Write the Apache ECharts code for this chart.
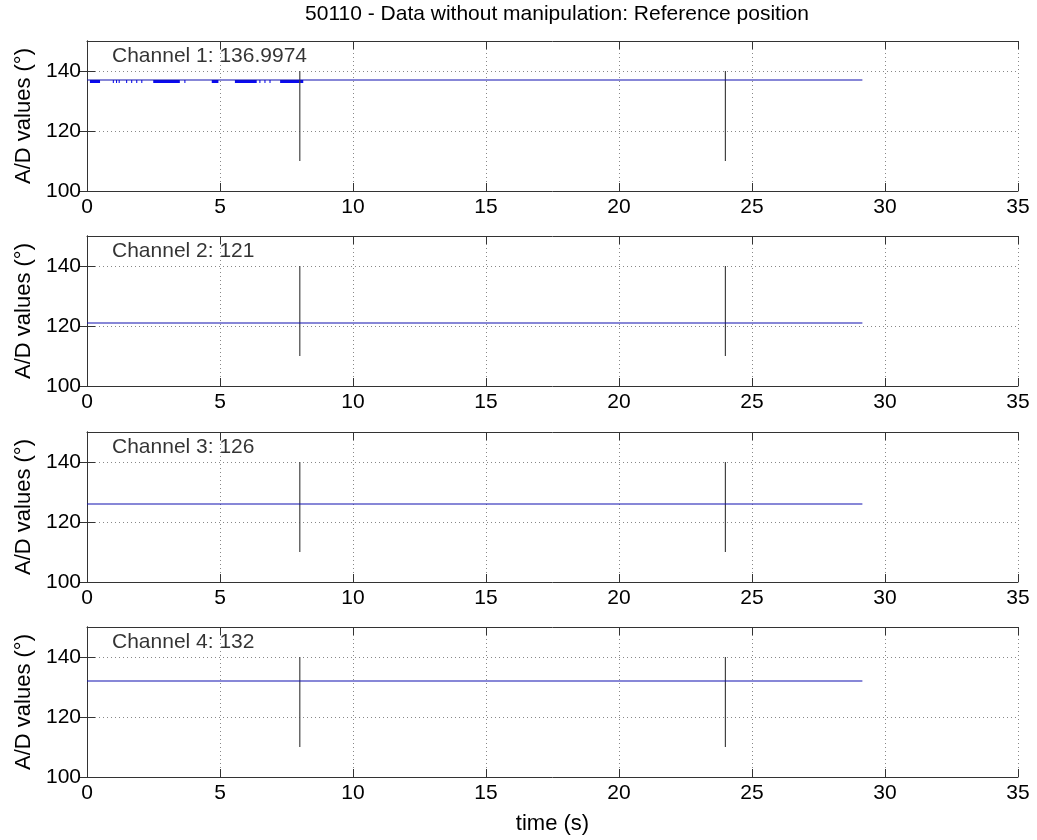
<!DOCTYPE html>
<html><head><meta charset="utf-8">
<script src="https://cdn.jsdelivr.net/npm/echarts@6/dist/echarts.min.js"></script>
<style>html,body{margin:0;padding:0;background:#fff}#c{width:1037px;height:840px}</style>
</head><body><div id="c"></div>
<script>
// ---- data ----
const titleText = '50110 - Data without manipulation: Reference position';
const channelNames = ['Channel 1', 'Channel 2', 'Channel 3', 'Channel 4'];
const channelMeans = ['136.9974', '121', '126', '132'];
const timeSamples = [0, 29.15];
const channelLevels = [137, 121, 126, 132];
const ch1NoiseLevels = [136, 137];
const ch1NoiseIntervals = [[0.11,0.49],[0.97,1.01],[1.09,1.13],[1.19,1.23],[1.47,1.51],[1.66,1.70],[1.85,1.89],[2.04,2.08],[2.49,3.49],[3.66,3.70],[4.69,4.94],[5.56,6.38],[6.48,6.52],[6.67,6.71],[6.86,6.90],[7.26,8.13]];
const markerTimes = [8, 24];
const markerRange = [110, 140];
const xTickValues = [0, 5, 10, 15, 20, 25, 30, 35];
const yTickValues = [100, 120, 140];
const xLabel = 'time (s)';
const yLabel = 'A/D values (°)';

// ---- chart ----
const FONT = 'Liberation Sans, Arial, sans-serif';
const tops = [41, 236, 432, 627];
const frame = '#333';
const grid = [], xAxis = [], yAxis = [], series = [];
const xMin = xTickValues[0], xMax = xTickValues[xTickValues.length - 1];
const xInt = xTickValues[1] - xTickValues[0];
const yMin = yTickValues[0], yInt = yTickValues[1] - yTickValues[0];
const yMax = 150;

tops.forEach((t, i) => {
  grid.push({left: 87, right: 19, top: t, height: 150});
  const last = i === tops.length - 1;
  xAxis.push({
    gridIndex: i, type: 'value', min: xMin, max: xMax, interval: xInt, position: 'bottom',
    axisLine: {lineStyle: {color: frame, width: 1}},
    axisTick: {inside: true, length: 8, lineStyle: {color: frame}},
    axisLabel: {fontSize: 21, color: '#000', fontFamily: FONT, margin: 6},
    splitLine: {show: true, lineStyle: {type: [1, 3], color: '#888', width: 1}},
    name: last ? xLabel : '', nameLocation: 'middle', nameGap: 36,
    nameTextStyle: {fontSize: 22, color: '#000', fontFamily: FONT}
  });
  xAxis.push({
    gridIndex: i, type: 'value', min: xMin, max: xMax, interval: xInt, position: 'top',
    axisLine: {show: true, lineStyle: {color: frame, width: 1}},
    axisTick: {show: true, inside: true, length: 8, lineStyle: {color: frame}},
    axisLabel: {show: false}, splitLine: {show: false}
  });
  yAxis.push({
    gridIndex: i, type: 'value', min: yMin, max: yMax, interval: yInt, position: 'left',
    axisLine: {show: true, lineStyle: {color: frame, width: 1}},
    axisTick: {show: true, inside: true, length: 8, lineStyle: {color: frame}, customValues: yTickValues},
    axisLabel: {fontSize: 21, color: '#000', fontFamily: FONT, margin: 6, customValues: yTickValues},
    splitLine: {show: true, lineStyle: {type: [1, 3], color: '#888', width: 1}},
    name: yLabel, nameLocation: 'middle', nameGap: 51,
    nameTextStyle: {fontSize: 22, color: '#000', fontFamily: FONT}
  });
  yAxis.push({
    gridIndex: i, type: 'value', min: yMin, max: yMax, interval: yInt, position: 'right',
    axisLine: {show: true, lineStyle: {color: frame, width: 1}},
    axisTick: {show: true, inside: true, length: 8, lineStyle: {color: frame}, customValues: yTickValues},
    axisLabel: {show: false}, splitLine: {show: false}
  });

  // marker vertical lines
  markerTimes.forEach(mt => {
    series.push({
      type: 'line', xAxisIndex: 2 * i, yAxisIndex: 2 * i, symbol: 'none', silent: true,
      data: [[mt, markerRange[0]], [mt, markerRange[1]]],
      lineStyle: {color: '#444', width: 1.2}, z: 2
    });
  });

  // channel signal
  const s = {
    type: 'line', xAxisIndex: 2 * i, yAxisIndex: 2 * i, symbol: 'none', silent: true,
    data: timeSamples.map(tt => [tt, channelLevels[i]]),
    lineStyle: {color: '#1010b0', width: 1.2}, z: 3
  };
  if (i === 0) {
    s.markArea = {
      silent: true,
      itemStyle: {color: '#0a0af0', opacity: 1},
      data: ch1NoiseIntervals.map(iv => [{coord: [iv[0], ch1NoiseLevels[0]]}, {coord: [iv[1], ch1NoiseLevels[1]]}])
    };
  }
  series.push(s);

  // channel annotation
  series.push({
    type: 'scatter', xAxisIndex: 2 * i, yAxisIndex: 2 * i, symbolSize: 0, silent: true,
    data: [[0.94, 145]],
    label: {show: true, position: 'right', distance: 0, formatter: channelNames[i] + ': ' + channelMeans[i],
      fontSize: 21, color: '#000', fontFamily: FONT},
    z: 5
  });
});

const chart = echarts.init(document.getElementById('c'), null, {renderer: 'canvas'});
chart.setOption({
  animation: false,
  backgroundColor: '#fff',
  grid, xAxis, yAxis, series,
  graphic: [{type: 'text', x: 557, y: 14, style: {text: titleText, fontSize: 21, fontFamily: FONT, fill: '#000', align: 'center', verticalAlign: 'middle'}}]
});
</script></body></html>
